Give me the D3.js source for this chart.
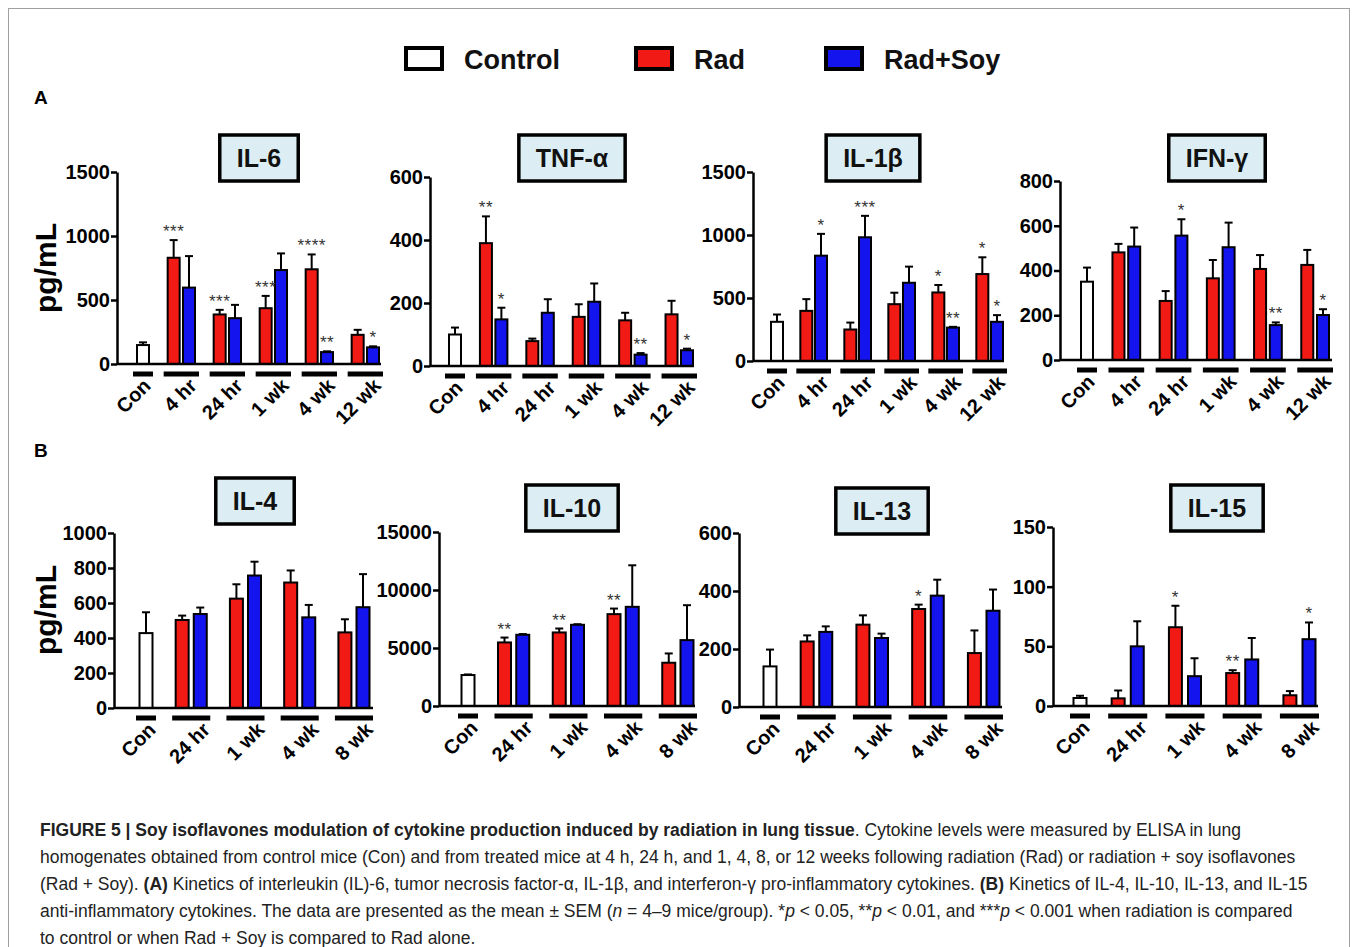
<!DOCTYPE html>
<html>
<head>
<meta charset="utf-8">
<script src="https://cdn.jsdelivr.net/npm/d3@7"></script>
<style>
  body { margin: 0; background: #fff; }
  svg { display: block; font-family: "Liberation Sans", Arial, sans-serif; }
</style>
</head>
<body>
<svg id="fig" width="1358" height="947"></svg>
<script>
// ---- data ----
const timesA = ["Con", "4 hr", "24 hr", "1 wk", "4 wk", "12 wk"];
const timesB = ["Con", "24 hr", "1 wk", "4 wk", "8 wk"];
const groups = ["Control", "Rad", "Rad+Soy"];

// IL-6
const il6Con = [148, 21];
const il6Rad = [830, 387, 436, 740, 228];
const il6RadSem = [138, 36, 96, 116, 39];
const il6Soy = [597, 358, 734, 93, 130];
const il6SoySem = [246, 104, 130, 6, 8];
const il6RadStars = ["***", "***", "***", "****", ""];
const il6SoyStars = ["", "", "", "**", "*"];
const il6Ticks = [0, 500, 1000, 1500];

// TNF-alpha
const tnfCon = [100, 22];
const tnfRad = [390, 79, 156, 145, 164];
const tnfRadSem = [85, 8, 40, 24, 43];
const tnfSoy = [148, 169, 204, 36, 50];
const tnfSoySem = [37, 43, 58, 5, 5];
const tnfRadStars = ["**", "", "", "", ""];
const tnfSoyStars = ["*", "", "", "**", "*"];
const tnfTicks = [0, 200, 400, 600];

// IL-1beta
const il1bCon = [311, 58];
const il1bRad = [398, 250, 451, 544, 690];
const il1bRadSem = [93, 55, 91, 59, 133];
const il1bSoy = [836, 982, 621, 265, 311];
const il1bSoySem = [173, 170, 128, 6, 53];
const il1bRadStars = ["", "", "", "*", "*"];
const il1bSoyStars = ["*", "***", "", "**", "*"];
const il1bTicks = [0, 500, 1000, 1500];

// IFN-gamma
const ifnCon = [350, 63];
const ifnRad = [481, 264, 365, 407, 425];
const ifnRadSem = [38, 44, 82, 62, 67];
const ifnSoy = [507, 556, 504, 156, 201];
const ifnSoySem = [85, 73, 110, 12, 26];
const ifnRadStars = ["", "", "", "", ""];
const ifnSoyStars = ["", "*", "", "**", "*"];
const ifnTicks = [0, 200, 400, 600, 800];

// IL-4
const il4Con = [428, 119];
const il4Rad = [503, 625, 717, 432];
const il4RadSem = [25, 82, 69, 75];
const il4Soy = [537, 757, 518, 576];
const il4SoySem = [37, 79, 71, 189];
const il4RadStars = ["", "", "", ""];
const il4SoyStars = ["", "", "", ""];
const il4Ticks = [0, 200, 400, 600, 800, 1000];

// IL-10
const il10Con = [2670, 50];
const il10Rad = [5480, 6340, 7920, 3730];
const il10RadSem = [420, 340, 480, 800];
const il10Soy = [6140, 7000, 8550, 5680];
const il10SoySem = [60, 50, 3580, 3010];
const il10RadStars = ["**", "**", "**", ""];
const il10SoyStars = ["", "", "", ""];
const il10Ticks = [0, 5000, 10000, 15000];

// IL-13
const il13Con = [140, 58];
const il13Rad = [226, 284, 338, 186];
const il13RadSem = [21, 32, 15, 78];
const il13Soy = [259, 238, 384, 332];
const il13SoySem = [19, 15, 55, 73];
const il13RadStars = ["", "", "*", ""];
const il13SoyStars = ["", "", "", ""];
const il13Ticks = [0, 200, 400, 600];

// IL-15
const il15Con = [6.7, 1.9];
const il15Rad = [6.4, 66, 27.6, 9];
const il15RadSem = [6.6, 18, 2.4, 3.5];
const il15Soy = [50, 25, 39, 56];
const il15SoySem = [21, 15, 18, 14];
const il15RadStars = ["", "*", "**", ""];
const il15SoyStars = ["", "", "", "*"];
const il15Ticks = [0, 50, 100, 150];

const panels = [
  { title: "IL-6", cats: timesA, con: il6Con, rad: il6Rad, radSem: il6RadSem, soy: il6Soy, soySem: il6SoySem, radStars: il6RadStars, soyStars: il6SoyStars, ticks: il6Ticks },
  { title: "TNF-α", cats: timesA, con: tnfCon, rad: tnfRad, radSem: tnfRadSem, soy: tnfSoy, soySem: tnfSoySem, radStars: tnfRadStars, soyStars: tnfSoyStars, ticks: tnfTicks },
  { title: "IL-1β", cats: timesA, con: il1bCon, rad: il1bRad, radSem: il1bRadSem, soy: il1bSoy, soySem: il1bSoySem, radStars: il1bRadStars, soyStars: il1bSoyStars, ticks: il1bTicks },
  { title: "IFN-γ", cats: timesA, con: ifnCon, rad: ifnRad, radSem: ifnRadSem, soy: ifnSoy, soySem: ifnSoySem, radStars: ifnRadStars, soyStars: ifnSoyStars, ticks: ifnTicks },
  { title: "IL-4", cats: timesB, con: il4Con, rad: il4Rad, radSem: il4RadSem, soy: il4Soy, soySem: il4SoySem, radStars: il4RadStars, soyStars: il4SoyStars, ticks: il4Ticks },
  { title: "IL-10", cats: timesB, con: il10Con, rad: il10Rad, radSem: il10RadSem, soy: il10Soy, soySem: il10SoySem, radStars: il10RadStars, soyStars: il10SoyStars, ticks: il10Ticks },
  { title: "IL-13", cats: timesB, con: il13Con, rad: il13Rad, radSem: il13RadSem, soy: il13Soy, soySem: il13SoySem, radStars: il13RadStars, soyStars: il13SoyStars, ticks: il13Ticks },
  { title: "IL-15", cats: timesB, con: il15Con, rad: il15Rad, radSem: il15RadSem, soy: il15Soy, soySem: il15SoySem, radStars: il15RadStars, soyStars: il15SoyStars, ticks: il15Ticks }
];

// ---- layout (pixel frame of each small chart) ----
const layout = [
  { ax: 117,  top: 172, y0: 364, first: 143,  last: 373,  end: 381,  tx: 259,  ty: 158, bw: 12, lab: 9 },
  { ax: 430,  top: 177, y0: 366, first: 455,  last: 687,  end: 694,  tx: 572,  ty: 158, bw: 12, lab: 9 },
  { ax: 753,  top: 172, y0: 361, first: 777,  last: 997,  end: 1004, tx: 873,  ty: 158, bw: 12, lab: 9 },
  { ax: 1060, top: 181, y0: 360, first: 1087, last: 1323, end: 1332, tx: 1217, ty: 158, bw: 12, lab: 9 },
  { ax: 114,  top: 533, y0: 708, first: 146,  last: 363,  end: 373,  tx: 255,  ty: 501, bw: 13, lab: 11 },
  { ax: 439,  top: 532, y0: 706, first: 468,  last: 687,  end: 695,  tx: 572,  ty: 508, bw: 13, lab: 11 },
  { ax: 739,  top: 533, y0: 707, first: 770,  last: 993,  end: 1002, tx: 882,  ty: 511, bw: 13, lab: 11 },
  { ax: 1053, top: 527, y0: 706, first: 1080, last: 1309, end: 1318, tx: 1217, ty: 508, bw: 13, lab: 11 }
];

const color = d3.scaleOrdinal().domain(groups).range(["#ffffff", "#f21a14", "#1414ee"]);

const svg = d3.select("#fig");
svg.append("rect").attr("width", 1358).attr("height", 947).attr("fill", "#fff");

// outer frame
svg.append("rect")
  .attr("x", 8.5).attr("y", 8.5).attr("width", 1341).attr("height", 1000)
  .attr("fill", "none").attr("stroke", "#a0a0a0").attr("stroke-width", 1);

// legend
const legendX = [404, 634, 824];
groups.forEach((g, i) => {
  svg.append("rect")
    .attr("x", legendX[i] + 2).attr("y", 48).attr("width", 36).attr("height", 21)
    .attr("fill", color(g)).attr("stroke", "#000").attr("stroke-width", 4);
  svg.append("text")
    .attr("x", legendX[i] + 60).attr("y", 69)
    .attr("font-size", 27).attr("font-weight", "bold").attr("fill", "#111")
    .text(g);
});

// row letters
svg.append("text").attr("x", 34).attr("y", 104).attr("font-size", 19).attr("font-weight", "bold").text("A");
svg.append("text").attr("x", 34).attr("y", 457).attr("font-size", 19).attr("font-weight", "bold").text("B");

// y label
[268, 610].forEach(cy => {
  svg.append("text")
    .attr("transform", `translate(56,${cy}) rotate(-90)`)
    .attr("text-anchor", "middle")
    .attr("font-size", 30).attr("font-weight", "bold")
    .text("pg/mL");
});

function drawPanel(p, L) {
  const g = svg.append("g");
  const n = p.cats.length - 1;
  const lastSlot = 3 * n;
  const x = d3.scaleLinear().domain([0, lastSlot]).range([L.first, L.last]);
  const y = d3.scaleLinear().domain([0, p.ticks[p.ticks.length - 1]]).range([L.y0, L.top]);

  // bars: Con at slot 0, each time point: red at 3k-1, blue at 3k
  const bars = [{ slot: 0, group: "Control", v: p.con[0], sem: p.con[1], star: "" }];
  p.rad.forEach((v, i) => {
    bars.push({ slot: 3 * (i + 1) - 1, group: "Rad", v: v, sem: p.radSem[i], star: p.radStars[i] });
    bars.push({ slot: 3 * (i + 1), group: "Rad+Soy", v: p.soy[i], sem: p.soySem[i], star: p.soyStars[i] });
  });

  // error bars (upper only)
  const eb = g.selectAll(".err").data(bars).enter().append("g");
  eb.append("line")
    .attr("x1", d => x(d.slot)).attr("x2", d => x(d.slot))
    .attr("y1", d => y(d.v)).attr("y2", d => y(d.v + d.sem))
    .attr("stroke", "#000").attr("stroke-width", 2);
  eb.append("line")
    .attr("x1", d => x(d.slot) - 4).attr("x2", d => x(d.slot) + 4)
    .attr("y1", d => y(d.v + d.sem)).attr("y2", d => y(d.v + d.sem))
    .attr("stroke", "#000").attr("stroke-width", 2);

  g.selectAll(".bar").data(bars).enter().append("rect")
    .attr("x", d => x(d.slot) - L.bw / 2)
    .attr("y", d => y(d.v))
    .attr("width", L.bw)
    .attr("height", d => L.y0 - y(d.v))
    .attr("fill", d => color(d.group))
    .attr("stroke", "#000").attr("stroke-width", 2);

  // significance stars
  g.selectAll(".star").data(bars.filter(d => d.star)).enter().append("text")
    .attr("x", d => x(d.slot)).attr("y", d => y(d.v + d.sem) - 3)
    .attr("text-anchor", "middle").attr("font-size", 17).attr("fill", "#333")
    .attr("letter-spacing", 0.5)
    .text(d => d.star);

  // y axis
  const yAxis = d3.axisLeft(y).tickValues(p.ticks).tickFormat(d3.format("d"))
    .tickSize(6).tickSizeOuter(0).tickPadding(1);
  const ya = g.append("g").attr("transform", `translate(${L.ax},0)`).call(yAxis);
  ya.attr("font-family", null).attr("font-size", null);
  ya.select(".domain").attr("stroke", "#000").attr("stroke-width", 2.5);
  ya.selectAll(".tick line").attr("stroke", "#000").attr("stroke-width", 2.5);
  ya.selectAll(".tick text")
    .attr("font-size", 20).attr("font-weight", "bold").attr("fill", "#000");

  // x axis line
  g.append("line")
    .attr("x1", L.ax).attr("x2", L.end).attr("y1", L.y0).attr("y2", L.y0)
    .attr("stroke", "#000").attr("stroke-width", 2.5);

  // group underlines + rotated labels
  p.cats.forEach((c, i) => {
    const s0 = i === 0 ? 0 : 3 * i - 1;
    const s1 = i === 0 ? 0 : 3 * i;
    g.append("line")
      .attr("x1", x(s0) - 10).attr("x2", x(s1) + 10)
      .attr("y1", L.y0 + 10).attr("y2", L.y0 + 10)
      .attr("stroke", "#000").attr("stroke-width", 5);
    g.append("text")
      .attr("transform", `translate(${x(s1) + L.lab},${L.y0 + 23}) rotate(-45)`)
      .attr("text-anchor", "end")
      .attr("font-size", 20).attr("font-weight", "bold")
      .text(c);
  });

  // boxed title
  const box = g.append("rect");
  const t = g.append("text")
    .attr("x", L.tx).attr("y", L.ty + 9)
    .attr("text-anchor", "middle")
    .attr("font-size", 25).attr("font-weight", "bold").attr("fill", "#111")
    .text(p.title);
  const w = t.node().getComputedTextLength() + 34;
  box.attr("x", L.tx - w / 2).attr("y", L.ty - 23)
    .attr("width", w).attr("height", 46)
    .attr("fill", "#dceef3").attr("stroke", "#000").attr("stroke-width", 3.5);
}

panels.forEach((p, i) => drawPanel(p, layout[i]));

// ---- caption ----
const captionLines = [
  [["b", "FIGURE 5 | Soy isoflavones modulation of cytokine production induced by radiation in lung tissue"], ["", ". Cytokine levels were measured by ELISA in lung"]],
  [["", "homogenates obtained from control mice (Con) and from treated mice at 4 h, 24 h, and 1, 4, 8, or 12 weeks following radiation (Rad) or radiation + soy isoflavones"]],
  [["", "(Rad + Soy). "], ["b", "(A)"], ["", " Kinetics of interleukin (IL)-6, tumor necrosis factor-α, IL-1β, and interferon-γ pro-inflammatory cytokines. "], ["b", "(B)"], ["", " Kinetics of IL-4, IL-10, IL-13, and IL-15"]],
  [["", "anti-inflammatory cytokines. The data are presented as the mean ± SEM ("], ["i", "n"], ["", " = 4–9 mice/group). *"], ["i", "p"], ["", " < 0.05, **"], ["i", "p"], ["", " < 0.01, and ***"], ["i", "p"], ["", " < 0.001 when radiation is compared"]],
  [["", "to control or when Rad + Soy is compared to Rad alone."]]
];

captionLines.forEach((parts, i) => {
  const t = svg.append("text")
    .attr("x", 40).attr("y", 836 + i * 27)
    .attr("font-size", 17.5).attr("fill", "#222");
  parts.forEach(([style, s]) => {
    t.append("tspan")
      .attr("font-weight", style === "b" ? "bold" : "normal")
      .attr("font-style", style === "i" ? "italic" : "normal")
      .text(s);
  });
});
</script>
</body>
</html>
